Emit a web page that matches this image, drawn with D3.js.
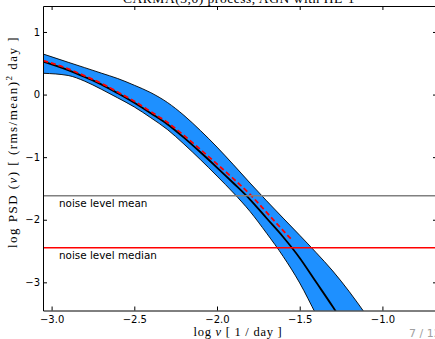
<!DOCTYPE html>
<html>
<head>
<meta charset="utf-8">
<script src="https://cdn.jsdelivr.net/npm/d3@7"></script>
<style>
  html, body { margin: 0; padding: 0; background: #fff; }
  svg { display: block; }
</style>
</head>
<body>
<script>
// log frequency grid [log10(1/day)]
const logFreq = [-3.05, -2.9, -2.8, -2.7, -2.6, -2.5, -2.4, -2.3, -2.2, -2.1, -2.0,
                 -1.9, -1.8, -1.7, -1.6, -1.5, -1.4, -1.3, -1.2, -1.1];
// PSD posterior: upper / lower envelope and median
const psdUpper  = [0.647, 0.516, 0.430, 0.343, 0.256, 0.149, 0.030, -0.126, -0.332, -0.575, -0.839,
                   -1.123, -1.414, -1.698, -1.974, -2.248, -2.527, -2.819, -3.150, -3.514];
const psdLower  = [0.340, 0.305, 0.214, 0.086, -0.053, -0.198, -0.371, -0.558, -0.791, -1.040, -1.302,
                   -1.573, -1.869, -2.216, -2.586, -3.010, -3.519, -4.032, -4.5, -5.0];
const psdMedian = [0.527, 0.391, 0.281, 0.163, 0.021, -0.131, -0.299, -0.474, -0.688, -0.922, -1.166,
                   -1.417, -1.677, -1.976, -2.275, -2.610, -3.000, -3.391, -3.808, -4.240];
// model PSD, drawn dashed above the noise floor
const modelFreq = [-3.05, -2.9, -2.8, -2.7, -2.6, -2.5, -2.4, -2.3, -2.2, -2.1, -2.0,
                   -1.9, -1.8, -1.7, -1.6, -1.55];
const modelPsd  = [0.543, 0.411, 0.299, 0.179, 0.040, -0.107, -0.273, -0.444, -0.652, -0.877, -1.110,
                   -1.347, -1.596, -1.883, -2.173, -2.315];
// noise levels
const noiseMean = -1.615;
const noiseMedian = -2.446;

const xTicks = [-3.0, -2.5, -2.0, -1.5, -1.0];
const yTicks = [-3, -2, -1, 0, 1];

const W = 435, H = 339;
const pL = 43, pR = 437, pT = 6, pB = 310.5;

const x = d3.scaleLinear().domain([-3.052, -0.670]).range([pL, pR]);
const y = d3.scaleLinear().domain([1.415, -3.45]).range([pT, pB]);

const svg = d3.select("body").append("svg").attr("width", W).attr("height", H);

svg.append("defs").append("clipPath").attr("id", "plot")
  .append("rect").attr("x", pL).attr("y", pT)
  .attr("width", pR - pL).attr("height", pB - pT);

const g = svg.append("g").attr("clip-path", "url(#plot)");

const band = logFreq.map((f, i) => ({f, lo: psdLower[i], hi: psdUpper[i]}));
const area = d3.area().curve(d3.curveMonotoneX)
  .x(d => x(d.f)).y0(d => y(d.lo)).y1(d => y(d.hi));
g.append("path").datum(band).attr("d", area)
  .attr("fill", "#1e90ff").attr("stroke", "#000").attr("stroke-width", 0.9);

const line = d3.line().curve(d3.curveMonotoneX);
g.append("path")
  .attr("d", line(logFreq.map((f, i) => [x(f), y(psdMedian[i])])))
  .attr("fill", "none").attr("stroke", "#000").attr("stroke-width", 1.8);

g.append("path")
  .attr("d", line(modelFreq.map((f, i) => [x(f), y(modelPsd[i])])))
  .attr("fill", "none").attr("stroke", "#ff0000").attr("stroke-width", 1.8)
  .attr("stroke-dasharray", "5,3");

g.append("line").attr("x1", pL).attr("x2", pR)
  .attr("y1", y(noiseMean)).attr("y2", y(noiseMean))
  .attr("stroke", "#808080").attr("stroke-width", 1.5);
g.append("line").attr("x1", pL).attr("x2", pR)
  .attr("y1", y(noiseMedian)).attr("y2", y(noiseMedian))
  .attr("stroke", "#ff0000").attr("stroke-width", 1.5);

const sans = "DejaVu Sans, sans-serif";
const serif = "Liberation Serif, DejaVu Serif, serif";

svg.append("text").attr("x", 59).attr("y", y(noiseMean) + 11.5)
  .attr("font-family", sans).attr("font-size", 10.4).attr("fill", "#000")
  .text("noise level mean");
svg.append("text").attr("x", 59).attr("y", y(noiseMedian) + 11.5)
  .attr("font-family", sans).attr("font-size", 10.4).attr("fill", "#000")
  .text("noise level median");

// axes frame with inward ticks on all sides
const mk = (axis, scale, ticks, fmt) => axis(scale).tickValues(ticks).tickFormat(fmt)
  .tickSizeInner(-4).tickSizeOuter(0).tickPadding(7);
const fx = d => d3.format(".1f")(d).replace("-", "\u2212");
const fy = d => d3.format("d")(d).replace("-", "\u2212");

const axB = svg.append("g").attr("transform", `translate(0,${pB})`)
  .call(mk(d3.axisBottom, x, xTicks, fx));
const axT = svg.append("g").attr("transform", `translate(0,${pT})`)
  .call(mk(d3.axisTop, x, xTicks, () => ""));
const axL = svg.append("g").attr("transform", `translate(${pL},0)`)
  .call(mk(d3.axisLeft, y, yTicks, fy));
const axR = svg.append("g").attr("transform", `translate(${pR},0)`)
  .call(mk(d3.axisRight, y, yTicks, () => ""));
[axB, axT, axL, axR].forEach(a => {
  a.selectAll("path.domain").attr("stroke", "#000").attr("stroke-width", 1);
  a.selectAll(".tick line").attr("stroke", "#000").attr("stroke-width", 1);
  a.selectAll("text").attr("font-family", sans).attr("font-size", 10).attr("fill", "#000");
});
axB.selectAll("text").attr("dy", "0.71em").attr("y", 5);
axL.selectAll("text").attr("x", -3);

// widen a text's letter spacing so that it spans the given width
function fitWidth(sel, width) {
  const node = sel.node();
  const len = node.getComputedTextLength();
  const n = node.textContent.length;
  sel.attr("letter-spacing", Math.max(0, (width - len) / n));
}

// axis titles
const xl = svg.append("text").attr("x", 238).attr("y", 336)
  .attr("text-anchor", "middle").attr("font-family", serif).attr("font-size", 12.5).attr("fill", "#000");
xl.append("tspan").text("log ");
xl.append("tspan").attr("font-style", "italic").text("\u03bd");
xl.append("tspan").text(" [ 1 / day ]");
fitWidth(xl, 89);

const yl = svg.append("text")
  .attr("transform", `translate(17,142) rotate(-90)`)
  .attr("text-anchor", "middle").attr("font-family", serif).attr("font-size", 13).attr("fill", "#000");
yl.append("tspan").text("log PSD (");
yl.append("tspan").attr("font-style", "italic").text("\u03bd");
yl.append("tspan").text(") [ (rms/mean)");
yl.append("tspan").attr("font-size", 9).attr("dy", -5).text("2");
yl.append("tspan").attr("dy", 5).text(" day ]");
fitWidth(yl, 212);

// title, mostly above the frame
const title = svg.append("text").attr("x", 239).attr("y", 3)
  .attr("text-anchor", "middle").attr("font-family", serif).attr("font-size", 13.5).attr("fill", "#000")
  .text("CARMA(3,0) process, AGN with HE-1");
fitWidth(title, 232);

// slide counter
svg.append("text").attr("x", 409).attr("y", 337)
  .attr("font-family", sans).attr("font-size", 11).attr("fill", "#a0a0a0")
  .text("7 / 12");
</script>
</body>
</html>
